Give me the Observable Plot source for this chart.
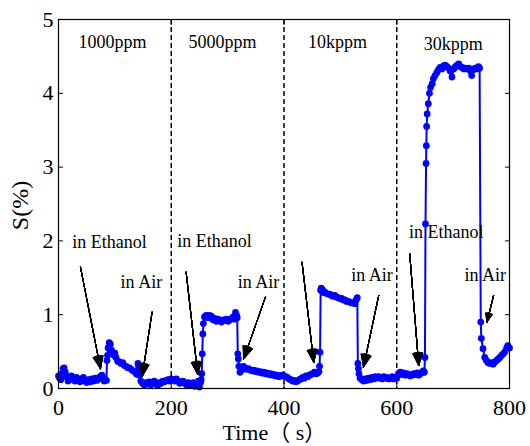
<!DOCTYPE html>
<html><head><meta charset="utf-8">
<script src="https://cdn.jsdelivr.net/npm/d3@7"></script>
<script src="https://cdn.jsdelivr.net/npm/@observablehq/plot@0.6"></script>
<style>html,body{margin:0;padding:0;background:#fff}</style>
</head><body><div id="chart"></div>
<script>
// Time (s) and response S (%)
const time = [
  0,2,4,6,8,10,12,14,17,20,23,26,29,32,35,38,41,44,47,50,53,56,59,62,65,68,71,74,77,79,81,83,85,
  86,87,88,90,92,94,96,98,100,102,105,108,111,114,117,120,123,126,129,132,135,138,140,141,142,144,146,149,
  152,155,158,161,164,167,170,173,176,179,182,185,188,191,194,197,200,203,206,209,212,215,218,221,224,227,230,233,236,239,242,245,248,250,252,253,
  254,255,256,257,259,262,265,268,271,274,277,280,283,286,289,292,295,298,301,304,307,310,312,314,316,317,
  318,319,320,322,325,328,331,334,337,340,343,346,349,352,355,358,361,364,367,370,373,376,379,382,385,388,391,394,397,400,403,406,409,412,415,418,421,424,427,430,433,436,439,442,445,448,451,454,457,460,462,
  463,464,465,466,468,470,472,475,478,481,484,487,490,493,496,499,502,505,508,511,514,517,520,523,526,528,530,
  531,532,533,535,538,541,544,547,550,553,556,559,562,565,568,571,574,577,580,583,586,589,592,595,598,600,
  603,606,609,612,615,618,621,624,627,630,633,636,639,642,645,647,649,650,
  651,652,652.5,653,654,656,658,660,663,665,668,671,674,677,680,683,686,689,692,695,698,701,704,707,710,713,716,719,722,725,728,731,733,736,739,742,745,747,
  749,750,753,756,759,762,765,768,771,774,777,780,783,786,789,792,795,797,800
];
const response = [
  0.17,0.14,0.12,0.2,0.27,0.28,0.22,0.16,0.1,0.13,0.17,0.12,0.1,0.15,0.13,0.09,0.12,0.15,0.1,0.08,0.12,0.09,0.13,0.1,0.14,0.11,0.13,0.16,0.18,0.14,0.1,0.12,0.11,
  0.38,0.45,0.55,0.62,0.6,0.52,0.47,0.45,0.48,0.42,0.37,0.36,0.34,0.35,0.31,0.3,0.28,0.28,0.26,0.24,0.23,0.2,0.19,0.34,0.3,0.18,0.1,0.07,
  0.05,0.08,0.06,0.09,0.05,0.07,0.1,0.06,0.04,0.08,0.07,0.1,0.09,0.11,0.12,0.1,0.13,0.12,0.1,0.13,0.1,0.07,0.08,0.1,0.07,0.05,0.08,0.04,0.06,0.08,0.03,0.05,0.1,0.02,0.08,0.12,
  0.2,0.47,0.74,0.88,0.97,0.99,0.96,0.99,0.98,0.93,0.95,0.91,0.94,0.92,0.9,0.93,0.92,0.94,0.91,0.93,0.95,0.97,0.94,1.03,0.99,0.96,
  0.47,0.4,0.3,0.22,0.25,0.3,0.28,0.26,0.27,0.25,0.24,0.25,0.23,0.24,0.22,0.23,0.21,0.22,0.2,0.21,0.19,0.2,0.18,0.19,0.17,0.18,0.16,0.17,0.18,0.17,0.16,0.15,0.13,0.12,0.1,0.11,0.09,0.1,0.12,0.13,0.15,0.14,0.17,0.16,0.18,0.19,0.2,0.22,0.2,0.21,0.23,
  0.3,0.49,1.33,1.36,1.34,1.3,1.31,1.29,1.28,1.28,1.26,1.25,1.26,1.24,1.23,1.22,1.22,1.2,1.2,1.18,1.18,1.17,1.16,1.16,1.15,1.2,1.23,
  0.34,0.27,0.2,0.14,0.12,0.1,0.13,0.11,0.14,0.12,0.15,0.13,0.16,0.14,0.16,0.15,0.13,0.16,0.14,0.15,0.13,0.14,0.16,0.13,0.15,0.14,
  0.2,0.22,0.19,0.21,0.18,0.2,0.19,0.17,0.18,0.2,0.19,0.21,0.18,0.2,0.22,0.24,0.22,0.42,
  2.23,3.05,3.29,3.55,3.72,3.86,4.0,4.08,4.13,4.2,4.24,4.28,4.32,4.35,4.33,4.37,4.38,4.36,4.34,4.3,4.22,4.33,4.36,4.38,4.4,4.36,4.35,4.33,4.34,4.33,4.34,4.3,4.24,4.32,4.34,4.33,4.36,4.34,
  0.9,0.68,0.54,0.42,0.38,0.35,0.34,0.35,0.33,0.36,0.38,0.4,0.42,0.45,0.47,0.5,0.55,0.58,0.55
];

const xTicks = [0, 200, 400, 600, 800];
const yTicks = [0, 1, 2, 3, 4, 5];
const dividers = [200, 400, 600];

const xTitle = "Time（ s）";
const yTitle = "S(%)";
const titleX = [383, -67.4];
const titleY = [-0.6, 2.48];

const concLabels = ["1000ppm", "5000ppm", "10kppm", "30kppm"];
const concX = [96, 291, 495, 700];
const concY = [4.69, 4.69, 4.69, 4.66];

const noteText = ["in Ethanol", "in Air", "in Ethanol", "in Air", "in Air", "in Ethanol", "in Air"];
const noteX = [90.6, 147, 276.8, 354.6, 556, 688, 757];
const noteY = [1.98, 1.44, 2.0, 1.44, 1.53, 2.12, 1.53];

const arrowX1 = [39, 166, 226.4, 367, 432, 568, 623, 771.8];
const arrowY1 = [1.644, 1.034, 1.576, 1.237, 1.71, 1.26, 1.825, 1.26];
const arrowX2 = [74.5, 148.4, 247, 328.5, 452.7, 541, 639, 760];
const arrowY2 = [0.267, 0.163, 0.19, 0.40, 0.356, 0.289, 0.31, 0.90];

const series = time.map((t, i) => ({t, s: response[i]}));
const concs = concLabels.map((c, i) => ({c, x: concX[i], y: concY[i]}));
const notes = noteText.map((n, i) => ({n, x: noteX[i], y: noteY[i]}));
const arrows = arrowX1.map((x1, i) => ({x1, y1: arrowY1[i], x2: arrowX2[i], y2: arrowY2[i]}));

const headAngles = [2, 6, 10, 14, 18, 22, 26, 30, 34, 38, 42, 46];
const serif = "'Liberation Serif', 'Times New Roman', 'Noto Sans CJK SC', serif";

const chart = Plot.plot({
  width: 530,
  height: 446,
  marginLeft: 58,
  marginRight: 21,
  marginTop: 19,
  marginBottom: 58,
  style: {fontFamily: serif, background: "white", color: "black"},
  x: {domain: [0, 800]},
  y: {domain: [0, 5]},
  marks: [
    Plot.ruleX(dividers, {stroke: "black", strokeWidth: 1.5, strokeDasharray: "5,3"}),
    Plot.line(series, {x: "t", y: "s", stroke: "#0000ff", strokeWidth: 2}),
    Plot.dot(series, {x: "t", y: "s", fill: "#0000ff", r: 3.4}),
    Plot.frame({stroke: "black", strokeWidth: 1.2}),
    Plot.axisX(xTicks, {anchor: "bottom", tickSize: 5, dy: -5, tickFormat: () => "", label: null}),
    Plot.axisX(xTicks, {anchor: "top", tickSize: 5, dy: 5, tickFormat: () => "", label: null}),
    Plot.axisY(yTicks, {anchor: "left", tickSize: 5, dx: 5, tickFormat: () => "", label: null}),
    Plot.axisY(yTicks, {anchor: "right", tickSize: 5, dx: -5, tickFormat: () => "", label: null}),
    Plot.axisX(xTicks, {anchor: "bottom", tickSize: 0, tickPadding: 11, fontSize: 22, fontFamily: serif, tickFormat: d3.format("d"), label: null}),
    Plot.axisY(yTicks, {anchor: "left", tickSize: 0, tickPadding: 5, fontSize: 22, fontFamily: serif, tickFormat: d3.format("d"), label: null}),
    Plot.text([xTitle], {x: () => titleX[0], y: () => titleY[0], text: d => d, fontSize: 22, fontFamily: serif}),
    Plot.text([yTitle], {x: () => titleX[1], y: () => titleY[1], text: d => d, rotate: -90, fontSize: 24, fontFamily: serif}),
    Plot.text(concs, {x: "x", y: "y", text: "c", fontSize: 18, fontFamily: serif}),
    Plot.text(notes, {x: "x", y: "y", text: "n", fontSize: 18, fontFamily: serif}),
    ...headAngles.map(a => Plot.arrow(arrows, {x1: "x1", y1: "y1", x2: "x2", y2: "y2", stroke: "black", strokeWidth: 1, headAngle: a, headLength: 20}))
  ]
});
document.getElementById("chart").appendChild(chart);
</script>
</body></html>
